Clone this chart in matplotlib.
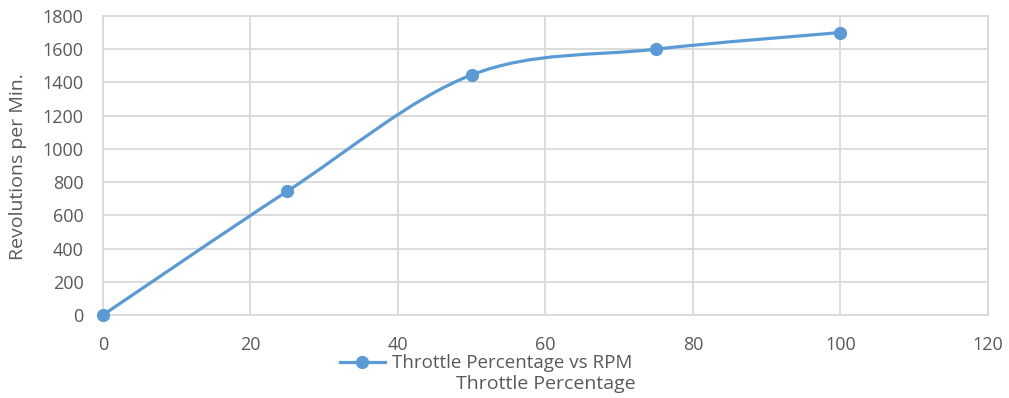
import matplotlib
matplotlib.use("Agg")
import matplotlib.pyplot as plt
from matplotlib.path import Path
from matplotlib.patches import PathPatch
from matplotlib.lines import Line2D

plt.rcParams['font.family'] = ['Open Sans', 'DejaVu Sans']

throttle = [0, 25, 50, 75, 100]
rpm = [0, 745, 1445, 1600, 1700]
series_label = 'Throttle Percentage vs RPM'

blue = '#5b9bd5'
grey_text = '#595959'
grid_col = '#d9d9d9'

fig = plt.figure(figsize=(10.09, 3.98), dpi=100)
ax = fig.add_axes([0.102, 0.2085, 0.877, 0.7515])

# smoothed line like excel (catmull-rom -> bezier)
pts = list(zip(throttle, rpm))
verts = [pts[0]]
codes = [Path.MOVETO]
for i in range(len(pts) - 1):
    p0 = pts[i - 1] if i > 0 else pts[i]
    p1 = pts[i]
    p2 = pts[i + 1]
    p3 = pts[i + 2] if i + 2 < len(pts) else pts[i + 1]
    c1 = (p1[0] + (p2[0] - p0[0]) / 6, p1[1] + (p2[1] - p0[1]) / 6)
    c2 = (p2[0] - (p3[0] - p1[0]) / 6, p2[1] - (p3[1] - p1[1]) / 6)
    verts += [c1, c2, p2]
    codes += [Path.CURVE4] * 3
ax.add_patch(PathPatch(Path(verts, codes), facecolor='none', edgecolor=blue,
                       lw=2.3, zorder=3, capstyle='round'))
ax.plot(throttle, rpm, ls='none', marker='o', ms=8.5, color=blue, zorder=4, clip_on=False)

ax.set_xlim(0, 120)
ax.set_ylim(0, 1800)
ax.set_xticks(range(0, 121, 20))
ax.set_yticks(range(0, 1801, 200))
ax.grid(True, color=grid_col, lw=1.3)
ax.set_axisbelow(True)
for s in ax.spines.values():
    s.set_color(grid_col)
    s.set_linewidth(1.3)
ax.tick_params(length=0, labelsize=13, colors=grey_text)
ax.tick_params(axis='x', pad=15)
ax.tick_params(axis='y', pad=14)

ax.set_ylabel('Revolutions per Min.', fontsize=14, color=grey_text)
ax.yaxis.set_label_coords(-0.086, 0.495)
ax.set_xlabel('Throttle Percentage', fontsize=14, color=grey_text)
ax.xaxis.set_label_coords(0.5, -0.2)

handle = Line2D([0], [0], color=blue, lw=2.3, marker='o', ms=8.5)
fig.legend(handles=[handle], labels=[series_label], loc='center',
           bbox_to_anchor=(0.482, 0.087), frameon=False, fontsize=13.5,
           labelcolor=grey_text, handlelength=2.4, handletextpad=0.4)

plt.savefig('out.png', dpi=100)
